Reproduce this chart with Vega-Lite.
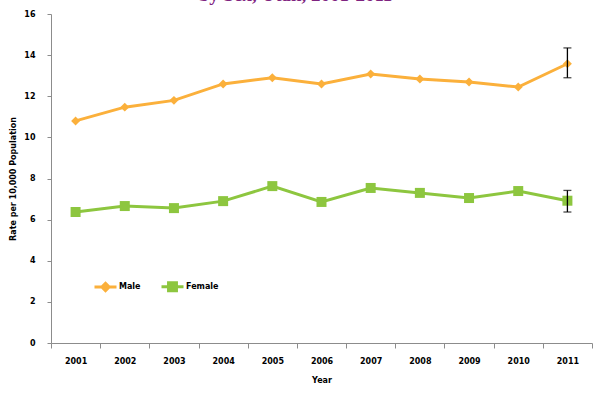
{
  "$schema": "https://vega.github.io/schema/vega-lite/v6.json",
  "width": 541,
  "height": 329,
  "autosize": {"type": "none"},
  "padding": {"left": 51, "top": 14, "right": 3, "bottom": 61},
  "background": "white",
  "title": {
    "text": "by Sex, Utah, 2001-2011",
    "font": "Liberation Serif",
    "fontSize": 19,
    "fontWeight": "bold",
    "color": "#7E2380",
    "baseline": "alphabetic",
    "offset": -10,
    "dx": -26,
    "anchor": "middle"
  },
  "config": {
    "view": {"stroke": null},
    "axis": {
      "labelFont": "DejaVu Sans",
      "labelFontWeight": "bold",
      "labelFontSize": 8,
      "labelColor": "#000000",
      "titleFont": "DejaVu Sans",
      "titleFontWeight": "bold",
      "titleFontSize": 8,
      "titleColor": "#000000",
      "domainColor": "#8c8c8c",
      "tickColor": "#8c8c8c",
      "grid": false
    },
    "legend": {
      "labelFont": "DejaVu Sans",
      "labelFontWeight": "bold",
      "labelFontSize": 8,
      "labelColor": "#000000"
    }
  },
  "datasets": {
    "rates": [
      {"year": "2001", "sex": "Male", "rate": 10.8},
      {"year": "2002", "sex": "Male", "rate": 11.47},
      {"year": "2003", "sex": "Male", "rate": 11.8},
      {"year": "2004", "sex": "Male", "rate": 12.6},
      {"year": "2005", "sex": "Male", "rate": 12.9},
      {"year": "2006", "sex": "Male", "rate": 12.6},
      {"year": "2007", "sex": "Male", "rate": 13.08},
      {"year": "2008", "sex": "Male", "rate": 12.84},
      {"year": "2009", "sex": "Male", "rate": 12.69},
      {"year": "2010", "sex": "Male", "rate": 12.45},
      {"year": "2011", "sex": "Male", "rate": 13.58},
      {"year": "2001", "sex": "Female", "rate": 6.37},
      {"year": "2002", "sex": "Female", "rate": 6.66},
      {"year": "2003", "sex": "Female", "rate": 6.56},
      {"year": "2004", "sex": "Female", "rate": 6.9},
      {"year": "2005", "sex": "Female", "rate": 7.63},
      {"year": "2006", "sex": "Female", "rate": 6.86},
      {"year": "2007", "sex": "Female", "rate": 7.54},
      {"year": "2008", "sex": "Female", "rate": 7.3},
      {"year": "2009", "sex": "Female", "rate": 7.05},
      {"year": "2010", "sex": "Female", "rate": 7.39},
      {"year": "2011", "sex": "Female", "rate": 6.92}
    ],
    "errors": [
      {"year": "2011", "sex": "Male", "lo": 12.9, "hi": 14.35},
      {"year": "2011", "sex": "Female", "lo": 6.37, "hi": 7.42}
    ]
  },
  "encoding": {
    "x": {
      "field": "year",
      "type": "ordinal",
      "bandPosition": 0.5,
      "scale": {"type": "band", "paddingInner": 0, "paddingOuter": 0},
      "axis": {
        "title": "Year",
        "labelAngle": 0,
        "tickBand": "extent",
        "tickSize": 5,
        "labelPadding": 9,
        "titlePadding": 11
      }
    }
  },
  "layer": [
    {
      "data": {"name": "rates"},
      "mark": {"type": "line", "strokeWidth": 3},
      "encoding": {
        "y": {
          "field": "rate",
          "type": "quantitative",
          "scale": {"domain": [0, 16]},
          "axis": {
            "title": "Rate per 10,000 Population",
            "values": [0, 2, 4, 6, 8, 10, 12, 14, 16],
            "tickSize": 4,
            "labelPadding": 12,
            "titlePadding": 6
          }
        },
        "color": {
          "field": "sex",
          "type": "nominal",
          "scale": {"domain": ["Male", "Female"], "range": ["#FBB03B", "#8DC63F"]},
          "legend": {
            "title": null,
            "orient": "none",
            "legendX": 42,
            "legendY": 260,
            "direction": "horizontal",
            "symbolSize": 484,
            "symbolStrokeWidth": 3,
            "labelOffset": 1,
            "columnPadding": 14,
            "encode": {
              "symbols": {
                "update": {
                  "shape": {"signal": "datum.value === 'Male' ? 'M-1,0L1,0M0,-0.33L0.33,0L0,0.33L-0.33,0Z' : 'M-1,0L1,0M-0.36,-0.36L0.36,-0.36L0.36,0.36L-0.36,0.36Z'"},
                  "size": {"value": 484},
                  "fill": {"signal": "datum.value === 'Male' ? '#FBB03B' : '#8DC63F'"},
                  "stroke": {"signal": "datum.value === 'Male' ? '#FBB03B' : '#8DC63F'"},
                  "strokeWidth": {"value": 3},
                  "strokeOpacity": {"value": 1},
                  "fillOpacity": {"value": 1},
                  "opacity": {"value": 1}
                }
              }
            }
          }
        }
      }
    },
    {
      "data": {"name": "rates"},
      "transform": [{"filter": "datum.sex === 'Male'"}],
      "mark": {"type": "point", "filled": true, "opacity": 1, "shape": "diamond", "size": 80},
      "encoding": {
        "y": {"field": "rate", "type": "quantitative"},
        "color": {"field": "sex", "type": "nominal"}
      }
    },
    {
      "data": {"name": "rates"},
      "transform": [{"filter": "datum.sex === 'Female'"}],
      "mark": {"type": "point", "filled": true, "opacity": 1, "shape": "square", "size": 100},
      "encoding": {
        "y": {"field": "rate", "type": "quantitative"},
        "color": {"field": "sex", "type": "nominal"}
      }
    },
    {
      "data": {"name": "errors"},
      "mark": {"type": "rule", "color": "#000000", "strokeWidth": 1.3},
      "encoding": {
        "y": {"field": "lo", "type": "quantitative"},
        "y2": {"field": "hi"}
      }
    },
    {
      "data": {"name": "errors"},
      "mark": {"type": "tick", "color": "#000000", "thickness": 1.3, "size": 8, "orient": "horizontal"},
      "encoding": {
        "y": {"field": "lo", "type": "quantitative"}
      }
    },
    {
      "data": {"name": "errors"},
      "mark": {"type": "tick", "color": "#000000", "thickness": 1.3, "size": 8, "orient": "horizontal"},
      "encoding": {
        "y": {"field": "hi", "type": "quantitative"}
      }
    }
  ]
}
